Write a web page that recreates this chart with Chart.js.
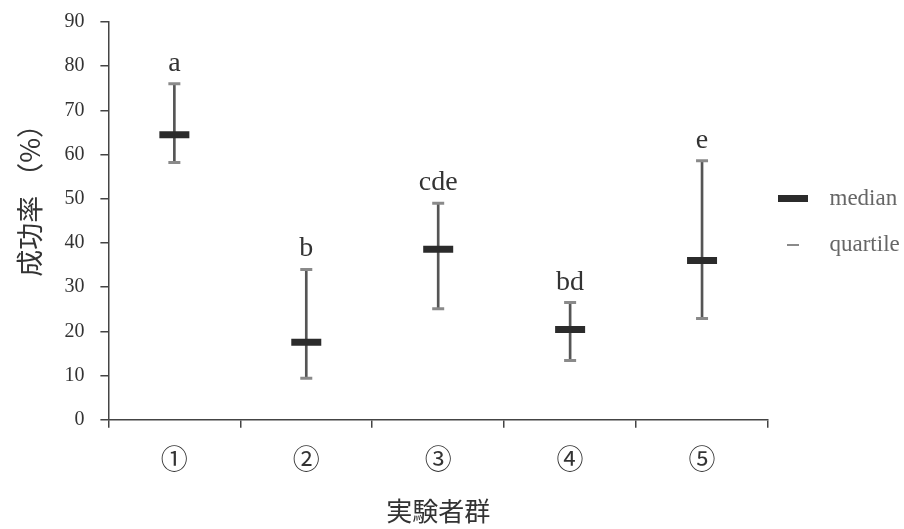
<!DOCTYPE html>
<html>
<head>
<meta charset="utf-8">
<script src="https://cdn.jsdelivr.net/npm/chart.js@4/dist/chart.umd.min.js"></script>
<style>
  body { margin: 0; background: #fff; }
  #wrap { width: 904px; height: 529px; }
</style>
</head>
<body>
<div id="wrap"><canvas id="successChart" width="904" height="529"></canvas></div>
<script>
// groups and values
const groups = ["①", "②", "③", "④", "⑤"];
const medians = [64.5, 17.5, 38.6, 20.4, 36.0];
const upperQ = [76.0, 34.0, 49.0, 26.5, 58.6];
const lowerQ = [58.2, 9.4, 25.1, 13.4, 22.9];
const letters = ["a", "b", "cde", "bd", "e"];
const yTicks = [0, 10, 20, 30, 40, 50, 60, 70, 80, 90];

const serif = "'Liberation Serif', 'Noto Sans CJK JP', serif";
const cjk = "'Noto Sans CJK JP', sans-serif";

// small icons for the legend
function icon(w, h, color) {
  const c = document.createElement("canvas");
  c.width = w; c.height = h;
  const g = c.getContext("2d");
  g.fillStyle = color;
  g.fillRect(0, 0, w, h);
  return c;
}
const medianIcon = icon(30, 7, "#2b2b2b");
const quartIcon = icon(12, 2, "#8a8a8a");

// significance letters above each upper quartile
const letterPlugin = {
  id: "letters",
  afterDatasetsDraw(chart) {
    const ctx = chart.ctx;
    const xs = chart.scales.x, ys = chart.scales.y;
    ctx.save();
    ctx.font = "28px " + serif;
    ctx.fillStyle = "#333";
    ctx.textAlign = "center";
    ctx.textBaseline = "alphabetic";
    letters.forEach((t, i) => {
      ctx.fillText(t, xs.getPixelForValue(i), ys.getPixelForValue(upperQ[i]) - 13);
    });
    ctx.restore();
  }
};

const ranges = lowerQ.map((v, i) => [v, upperQ[i]]);

const chart = new Chart("successChart", {
  type: "bar",
  data: {
    labels: groups,
    datasets: [
      {
        type: "line",
        label: "median",
        data: medians,
        showLine: false,
        pointStyle: "line",
        pointRadius: 15,
        borderWidth: 7,
        borderColor: "#2b2b2b",
        backgroundColor: "#2b2b2b",
        order: 0
      },
      {
        type: "line",
        label: "quartile",
        data: upperQ,
        showLine: false,
        pointStyle: "line",
        pointRadius: 6,
        borderWidth: 3,
        borderColor: "#8a8a8a",
        order: 1
      },
      {
        type: "line",
        label: "lower",
        data: lowerQ,
        showLine: false,
        pointStyle: "line",
        pointRadius: 6,
        borderWidth: 3,
        borderColor: "#8a8a8a",
        order: 1
      },
      {
        label: "range",
        data: ranges,
        barThickness: 2,
        backgroundColor: "#555",
        borderWidth: 0,
        order: 2
      }
    ]
  },
  options: {
    responsive: false,
    animation: false,
    events: [],
    layout: { padding: { top: 14, right: 0, bottom: 3, left: 14 } },
    plugins: {
      tooltip: { enabled: false },
      legend: {
        position: "right",
        align: "start",
        maxWidth: 136,
        title: { display: true, text: "", font: { size: 12 }, padding: 68 },
        labels: {
          usePointStyle: true,
          pointStyleWidth: 4,
          padding: 23,
          color: "#333",
          font: { family: serif, size: 23 },
          generateLabels: () => [
            { text: "    median", pointStyle: medianIcon, fillStyle: "#2b2b2b", strokeStyle: "#2b2b2b", lineWidth: 0, datasetIndex: 0 },
            { text: "    quartile", pointStyle: quartIcon, fillStyle: "#8a8a8a", strokeStyle: "#8a8a8a", lineWidth: 0, datasetIndex: 1 }
          ]
        }
      }
    },
    scales: {
      x: {
        afterFit: (s) => { s.paddingLeft = 0; s.paddingRight = 0; },
        grid: { drawOnChartArea: false, offset: true, tickLength: 8, color: "#444", lineWidth: 1.5 },
        border: { color: "#444", width: 1.5 },
        ticks: { color: "#333", font: { family: serif, size: 27 }, padding: 18 },
        title: { display: true, text: "実験者群", color: "#333", font: { family: cjk, size: 26, lineHeight: 1.15 }, padding: { top: 0, bottom: 0 } }
      },
      y: {
        min: 0,
        max: 90,
        afterBuildTicks: (axis) => { axis.ticks = yTicks.map(v => ({ value: v })); },
        afterFit: (s) => { s.paddingTop = 10; s.paddingBottom = 0; },
        grid: { drawOnChartArea: false, tickLength: 8, color: "#444", lineWidth: 1.5 },
        border: { color: "#444", width: 1.5 },
        ticks: { color: "#333", font: { family: serif, size: 20 }, padding: 16 },
        title: { display: true, text: "　　成功率 （%）", color: "#333", font: { family: cjk, size: 27 }, padding: { top: 0, bottom: 2 } }
      }
    }
  },
  plugins: [letterPlugin]
});
</script>
</body>
</html>
